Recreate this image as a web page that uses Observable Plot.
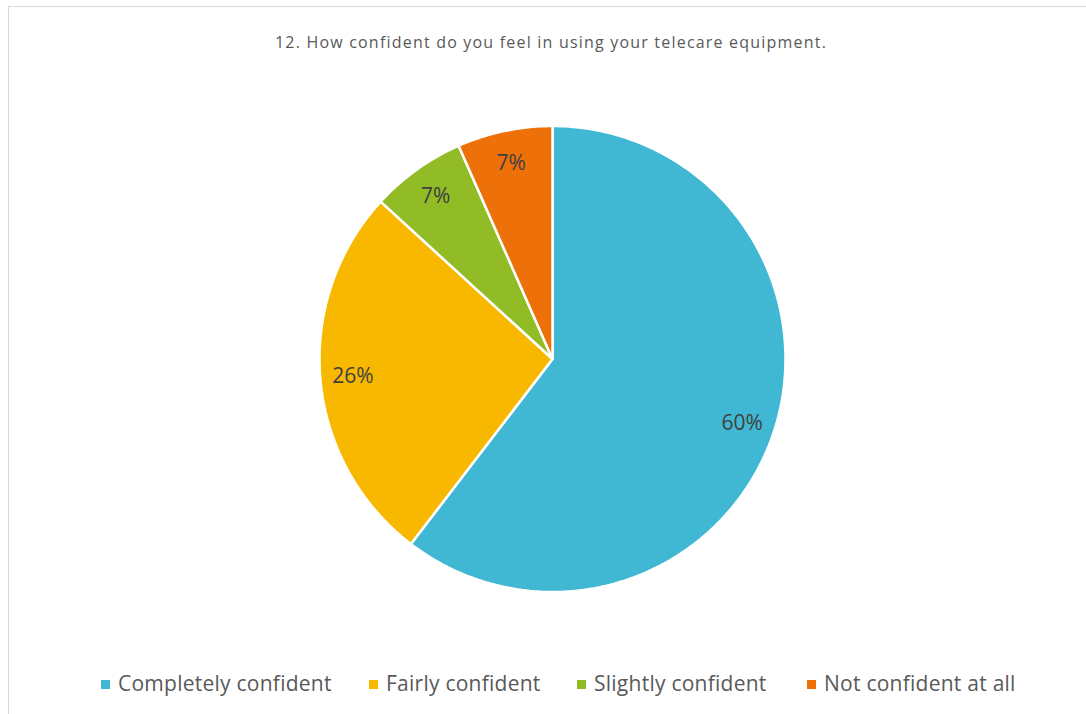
<!DOCTYPE html>
<html>
<head>
<meta charset="utf-8">
<script src="https://cdn.jsdelivr.net/npm/d3@7"></script>
<script src="https://cdn.jsdelivr.net/npm/@observablehq/plot@0.6"></script>
<style>
  html, body { margin: 0; padding: 0; background: #fff; }
  #wrap { position: relative; width: 1086px; height: 714px; overflow: hidden; font-family: "Open Sans", Lato, sans-serif; }
  #box { position: absolute; left: 8px; top: 6px; width: 1100px; height: 760px; border: 1px solid #d9d9d9; box-sizing: border-box; }
  #title { position: absolute; left: 0; width: 1102px; top: 31px; text-align: center; font-size: 16px; letter-spacing: 1.2px; color: #595959; }
  #chart { position: absolute; left: 0; top: 100px; }
  #legend { position: absolute; top: 668px; left: 0; width: 1086px; height: 30px; font-size: 21px; letter-spacing: 0.25px; color: #595959; }
  .item { position: absolute; top: 0; white-space: nowrap; line-height: 30px; }
  .sw { display: inline-block; width: 9px; height: 9px; margin-right: 8px; vertical-align: 2px; }
</style>
</head>
<body>
<div id="wrap">
  <div id="box"></div>
  <div id="title"></div>
  <div id="chart"></div>
  <div id="legend"></div>
</div>
<script>
const title = "12. How confident do you feel in using your telecare equipment.";
const categories = ["Completely confident", "Fairly confident", "Slightly confident", "Not confident at all"];
const values = [60.4, 26.4, 6.6, 6.6];
const labels = ["60%", "26%", "7%", "7%"];
const colors = ["#41B8D3", "#F9B800", "#92BC26", "#EE7009"];

document.getElementById("title").textContent = title;

// Build slice polygons in unit-circle coordinates (start at 12 o'clock, clockwise)
const total = d3.sum(values);
const poly = [];
const lab = [];
let acc = 0;
categories.forEach((c, i) => {
  const a0 = acc / total * 2 * Math.PI;
  acc += values[i];
  const a1 = acc / total * 2 * Math.PI;
  poly.push({cat: c, x: 0, y: 0});
  const n = Math.max(4, Math.ceil((a1 - a0) / (Math.PI / 180)));
  for (let k = 0; k <= n; k++) {
    const a = a0 + (a1 - a0) * k / n;
    poly.push({cat: c, x: Math.sin(a), y: Math.cos(a)});
  }
  const am = (a0 + a1) / 2;
  lab.push({cat: c, text: labels[i], x: 0.86 * Math.sin(am), y: 0.86 * Math.cos(am)});
});

const R = 233, W = 1086, H = 520, cx = 552, cy = 258.5;
const plot = Plot.plot({
  width: W, height: H,
  margin: 0,
  x: {domain: [-cx / R, (W - cx) / R], axis: null},
  y: {domain: [-(H - cy) / R, cy / R], axis: null},
  color: {domain: categories, range: colors},
  marks: [
    Plot.line(poly, {x: "x", y: "y", z: "cat", fill: "cat", stroke: "white", strokeWidth: 2.5, strokeLinejoin: "miter", curve: "linear-closed"}),
    Plot.text(lab, {x: "x", y: "y", text: "text", fontSize: 21, fill: "#404040", fontFamily: "Open Sans, Lato, sans-serif"})
  ]
});
document.getElementById("chart").appendChild(plot);

const legendX = [101, 369, 577, 807];
const lg = document.getElementById("legend");
categories.forEach((c, i) => {
  const it = document.createElement("div");
  it.className = "item";
  it.style.left = legendX[i] + "px";
  const sw = document.createElement("span");
  sw.className = "sw";
  sw.style.background = colors[i];
  it.appendChild(sw);
  it.appendChild(document.createTextNode(c));
  lg.appendChild(it);
});
</script>
</body>
</html>
